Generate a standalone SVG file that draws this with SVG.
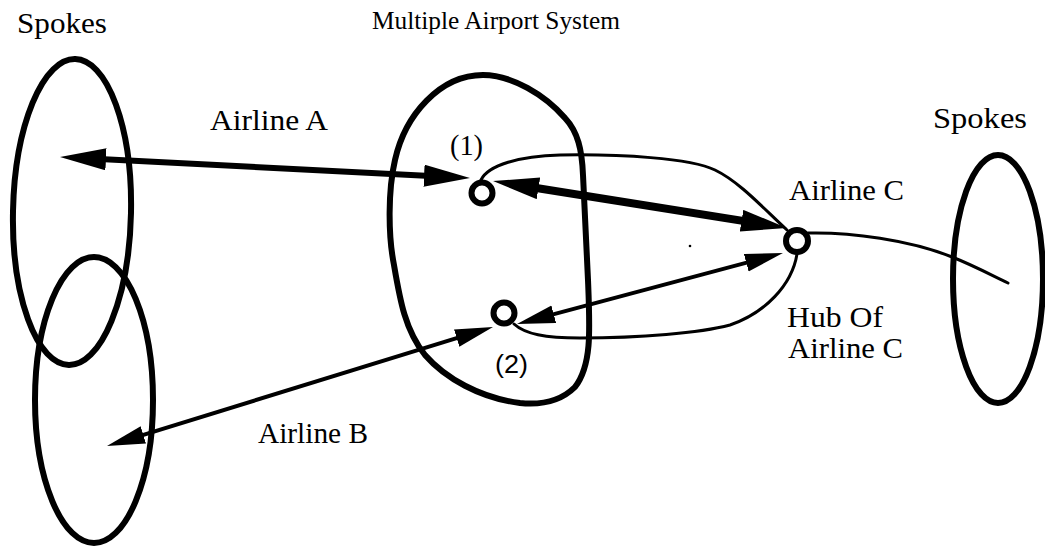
<svg xmlns="http://www.w3.org/2000/svg" width="1045" height="547" viewBox="0 0 1045 547">
<style>
.region{fill:none;stroke:#000;stroke-width:6}
.thin{fill:none;stroke:#000;stroke-width:3;stroke-linecap:round}
.node{fill:#fff;stroke:#000;stroke-width:6}
.lbl{font-family:"Liberation Serif","Times New Roman",serif;font-size:30px;fill:#000}
.title{font-family:"Liberation Serif","Times New Roman",serif;font-size:25.5px;fill:#000}
.sans{font-family:"Liberation Sans",Arial,sans-serif;font-size:26px;fill:#000}
</style>
<defs>
<marker id="headL" markerUnits="userSpaceOnUse" markerWidth="50" markerHeight="26" refX="26" refY="11" orient="auto-start-reverse">
<path d="M0,0 L46,11 L0,22 z" fill="#000"/>
</marker>
<marker id="headS" markerUnits="userSpaceOnUse" markerWidth="44" markerHeight="22" refX="22" refY="9" orient="auto-start-reverse">
<path d="M0,0 L38,9 L0,18 z" fill="#000"/>
</marker>
</defs>
<g id="spokes-left-top"><ellipse class="region" cx="72" cy="212" rx="59" ry="153" transform="rotate(1.2 72 212)"/></g>
<g id="spokes-left-bottom"><ellipse class="region" cx="94" cy="400" rx="59" ry="143"/></g>
<g id="spokes-right"><ellipse class="region" cx="998" cy="279" rx="45" ry="124"/></g>
<g id="multiple-airport-system"><path class="region" d="M483,75 C512,75 545,95 565,118 C578,132 582,150 583,175 L588,280 C590,330 592,365 575,387 C560,402 540,405 520,403 C480,398 445,378 425,355 C405,330 400,300 394,265 C388,235 388,190 395,160 C405,115 440,75 483,75 Z"/></g>
<g id="connectors">
<path class="thin" d="M481,180 C488,165 520,156 560,155 C620,154 690,158 715,170 C740,182 765,210 787,230"/>
<path class="thin" d="M514,324 C525,334 545,338 580,338 C640,338 700,333 730,325 C765,313 792,285 797,254"/>
<path class="thin" d="M808,233 C850,232 910,240 952,257 C975,266 995,277 1008,283"/>
<line x1="80" y1="158" x2="450" y2="177" stroke="#000" stroke-width="6" marker-start="url(#headL)" marker-end="url(#headL)"/>
<line x1="512.8" y1="184.2" x2="767.2" y2="224.8" stroke="#000" stroke-width="8" marker-start="url(#headL)" marker-end="url(#headL)"/>
<line x1="122.3" y1="441.3" x2="477.7" y2="331.7" stroke="#000" stroke-width="4" marker-start="url(#headS)" marker-end="url(#headS)"/>
<line x1="532.5" y1="319.9" x2="767.5" y2="257.1" stroke="#000" stroke-width="4" marker-start="url(#headS)" marker-end="url(#headS)"/>
</g>
<g id="airport-1"><circle class="node" cx="482" cy="193" r="10.5"/></g>
<g id="airport-2"><circle class="node" cx="504" cy="313" r="10.5"/></g>
<g id="hub-c"><circle class="node" cx="797" cy="241" r="11"/></g>
<circle cx="690" cy="246" r="1.3" fill="#000"/>
<g id="labels">
<text class="lbl" x="17" y="33" textLength="90" lengthAdjust="spacingAndGlyphs">Spokes</text>
<text class="title" x="372" y="29" textLength="248" lengthAdjust="spacingAndGlyphs">Multiple Airport System</text>
<text class="lbl" x="210" y="130" textLength="118" lengthAdjust="spacingAndGlyphs">Airline A</text>
<text class="lbl" x="450" y="155" textLength="33" lengthAdjust="spacingAndGlyphs">(1)</text>
<text class="lbl" x="933" y="128" textLength="94" lengthAdjust="spacingAndGlyphs">Spokes</text>
<text class="lbl" x="789" y="200" textLength="115" lengthAdjust="spacingAndGlyphs">Airline C</text>
<text class="lbl" x="787" y="327" textLength="96" lengthAdjust="spacingAndGlyphs">Hub Of</text>
<text class="lbl" x="788" y="358" textLength="115" lengthAdjust="spacingAndGlyphs">Airline C</text>
<text class="sans" x="495" y="373" textLength="33" lengthAdjust="spacingAndGlyphs">(2)</text>
<text class="lbl" x="258" y="443" textLength="110" lengthAdjust="spacingAndGlyphs">Airline B</text>
</g>
</svg>
